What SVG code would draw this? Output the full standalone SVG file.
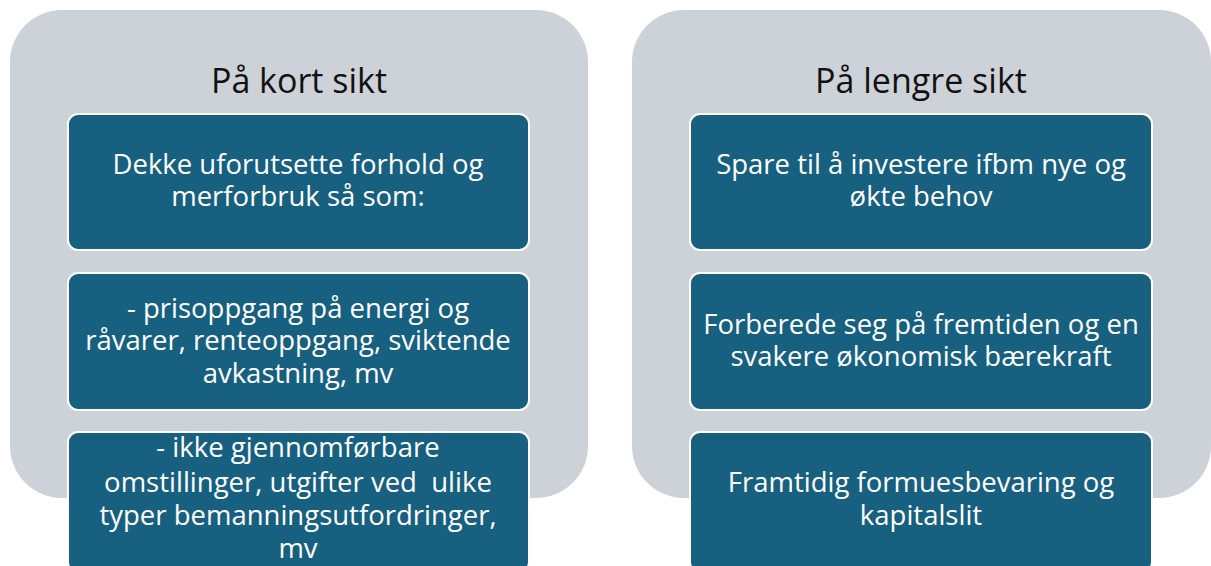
<svg xmlns="http://www.w3.org/2000/svg" width="1211" height="566" viewBox="0 0 1211 566">
<style>
.panel{fill:#cdd1d8}
.box{fill:#17607f;stroke:#ffffff;stroke-width:2}
.title{font-family:"Open Sans","Liberation Sans",Arial,sans-serif;font-size:34px;fill:#111111;text-anchor:middle}
.t{font-family:"Open Sans","Liberation Sans",Arial,sans-serif;font-size:27.5px;fill:#ffffff;text-anchor:middle}
</style>
<rect width="1211" height="566" fill="#ffffff"/>
<g id="panel-left">
<rect class="panel" x="10" y="10" width="578" height="488" rx="52"/>
<text class="title" x="299" y="93">På kort sikt</text>
</g>
<g id="panel-right">
<rect class="panel" x="632" y="10" width="579" height="488" rx="52"/>
<text class="title" x="921" y="93">På lengre sikt</text>
</g>
<g id="box-l1">
<rect class="box" x="68" y="114" width="461" height="136" rx="10"/>
<text class="t" x="298" y="174">Dekke uforutsette forhold og</text>
<text class="t" x="298" y="206">merforbruk så som:</text>
</g>
<g id="box-l2">
<rect class="box" x="68" y="273" width="461" height="137" rx="10"/>
<text class="t" x="298" y="318">- prisoppgang på energi og</text>
<text class="t" x="298" y="350">råvarer, renteoppgang, sviktende</text>
<text class="t" x="298" y="383">avkastning, mv</text>
</g>
<g id="box-l3">
<rect class="box" x="68" y="432" width="461" height="140" rx="10"/>
<text class="t" x="298" y="457">- ikke gjennomførbare</text>
<text class="t" x="298" y="492" xml:space="preserve">omstillinger, utgifter ved  ulike</text>
<text class="t" x="298" y="525">typer bemanningsutfordringer,</text>
<text class="t" x="298" y="558">mv</text>
</g>
<g id="box-r1">
<rect class="box" x="690" y="114" width="462" height="136" rx="10"/>
<text class="t" x="921" y="174">Spare til å investere ifbm nye og</text>
<text class="t" x="921" y="206">økte behov</text>
</g>
<g id="box-r2">
<rect class="box" x="690" y="273" width="462" height="137" rx="10"/>
<text class="t" x="921" y="334">Forberede seg på fremtiden og en</text>
<text class="t" x="921" y="366">svakere økonomisk bærekraft</text>
</g>
<g id="box-r3">
<rect class="box" x="690" y="432" width="462" height="140" rx="10"/>
<text class="t" x="921" y="492">Framtidig formuesbevaring og</text>
<text class="t" x="921" y="525">kapitalslit</text>
</g>
<g id="connectors"/>
</svg>
